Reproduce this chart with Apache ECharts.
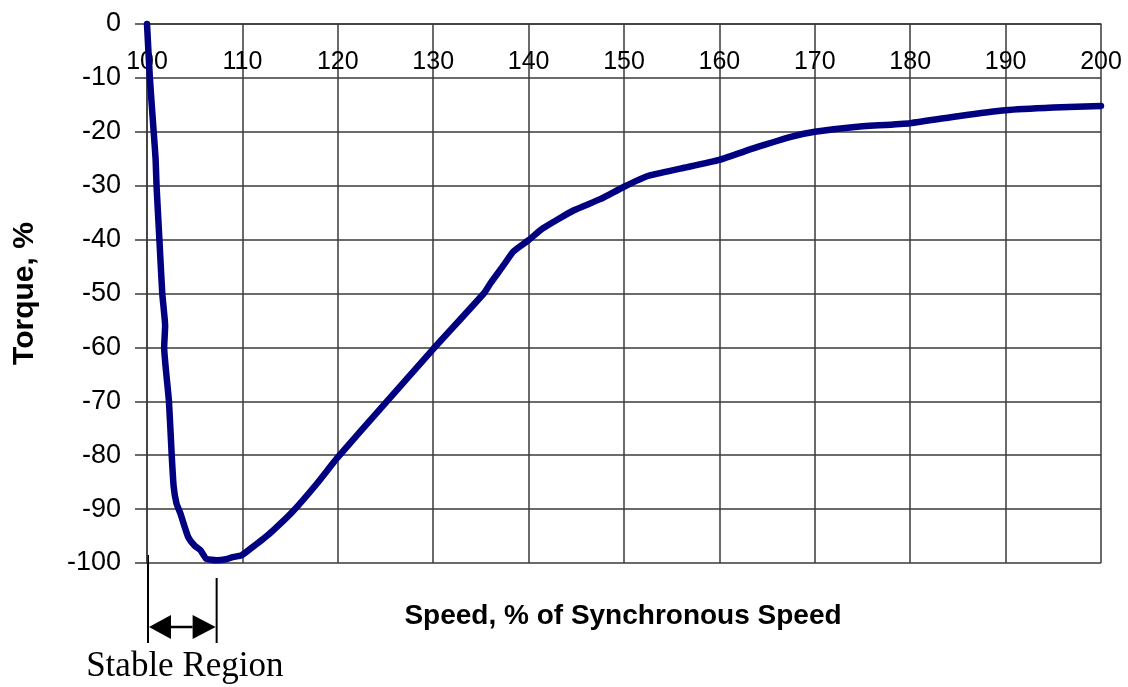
<!DOCTYPE html>
<html>
<head>
<meta charset="utf-8">
<title>Torque vs Speed</title>
<script src="https://cdn.jsdelivr.net/npm/echarts@6/dist/echarts.min.js"></script>
<style>
  html, body { margin: 0; padding: 0; background: #ffffff; }
  #chart { width: 1128px; height: 687px; }
</style>
</head>
<body>
<div id="chart"></div>
<script>
// Speed (% of synchronous speed) and the matching torque (%) along the curve
const speed = [100, 100.3, 100.7, 100.9, 101.0, 101.3, 101.6, 101.9, 101.8, 102.3,
  102.6, 102.8, 103.1, 103.5, 104.3, 105.0, 105.6, 106.2, 107.3, 108.3,
  109.0, 109.9, 111.1, 112.2, 113.2, 115.2, 117.8, 119.9, 124.8, 129.9,
  135.3, 136.0, 137.4, 138.4, 140.0, 141.5, 144.7, 147.5, 150.0, 152.5,
  156.0, 160.0, 163.7, 167.6, 170.0, 174.2, 180.0, 185.0, 190.0, 195.0, 200.0];
const torque = [0, -10, -20, -25, -30, -40, -50, -56, -60, -70,
  -80.3, -85.9, -89.0, -90.8, -95.1, -96.8, -97.6, -99.2, -99.5, -99.3,
  -98.9, -98.6, -97.0, -95.5, -94.0, -90.6, -85.3, -80.6, -70.7, -60.5,
  -50.0, -48.1, -44.7, -42.2, -40.1, -37.9, -34.6, -32.5, -30.2, -28.2,
  -26.8, -25.2, -23.0, -20.9, -20.0, -19.1, -18.4, -17.1, -16.0, -15.5, -15.2];

// Speed range marked as the stable region under the axis
const stableRegion = [100, 107.3];

const xTitle = 'Speed, % of Synchronous Speed';
const yTitle = 'Torque, %';
const regionLabel = 'Stable Region';

const sans = '"Liberation Sans", Arial, sans-serif';
const serif = '"Liberation Serif", "Times New Roman", serif';
const gridColor = '#3a3a3a';

const chart = echarts.init(document.getElementById('chart'), null, { renderer: 'canvas' });

chart.setOption({
  animation: false,
  backgroundColor: '#ffffff',
  grid: { left: 147, right: 27, top: 24, bottom: 124, containLabel: false, outerBoundsMode: 'none' },
  xAxis: {
    type: 'value',
    position: 'top',
    min: 100, max: 200, interval: 10,
    axisLine: { show: true, lineStyle: { color: gridColor, width: 1.5 } },
    axisTick: { show: false },
    axisLabel: {
      inside: true, margin: 26,
      color: '#000', fontFamily: sans, fontSize: 25,
      showMinLabel: true, showMaxLabel: true
    },
    splitLine: { show: true, lineStyle: { color: gridColor, width: 1.5 } }
  },
  yAxis: {
    type: 'value',
    min: -100, max: 0, interval: 10,
    name: yTitle,
    nameLocation: 'middle',
    nameRotate: 90,
    nameGap: 107,
    nameTextStyle: { color: '#000', fontFamily: sans, fontSize: 30, fontWeight: 'bold' },
    axisLine: { show: true, onZero: false, lineStyle: { color: gridColor, width: 1.5 } },
    axisTick: { show: true, length: 12, lineStyle: { color: gridColor, width: 1.5 } },
    axisLabel: { margin: 26, color: '#000', fontFamily: sans, fontSize: 27 },
    splitLine: { show: true, lineStyle: { color: gridColor, width: 1.5 } }
  },
  series: [{
    type: 'line',
    data: speed.map((s, i) => [s, torque[i]]),
    showSymbol: false,
    smooth: 0.15,
    lineStyle: { color: '#000080', width: 6.5, cap: 'round', join: 'round' },
    clip: false
  }]
});

// Annotation below the plot: stable-region bracket with a double arrow and label
const toPx = (x, y) => chart.convertToPixel({ gridIndex: 0 }, [x, y]);
const [xL, yB] = toPx(stableRegion[0], -100);
const [xR] = toPx(stableRegion[1], -100);
const [xMid] = toPx(150, -100);
const arrowY = yB + 64;
const head = 24, half = 12;
const ink = '#000000';

chart.setOption({
  graphic: [
    { type: 'line', shape: { x1: xL + 1, y1: yB - 8, x2: xL + 1, y2: yB + 80 }, style: { stroke: ink, lineWidth: 2 } },
    { type: 'line', shape: { x1: xR, y1: yB + 15, x2: xR, y2: yB + 80 }, style: { stroke: ink, lineWidth: 2 } },
    { type: 'line', shape: { x1: xL + head, y1: arrowY, x2: xR - head, y2: arrowY }, style: { stroke: ink, lineWidth: 2.5 } },
    { type: 'polygon', shape: { points: [[xL + 2, arrowY], [xL + head, arrowY - half], [xL + head, arrowY + half]] }, style: { fill: ink } },
    { type: 'polygon', shape: { points: [[xR - 1, arrowY], [xR - head, arrowY - half], [xR - head, arrowY + half]] }, style: { fill: ink } },
    {
      type: 'text', x: (xL + xR) / 2 + 3, y: yB + 104,
      style: { text: regionLabel, font: '35px ' + serif, fill: '#000', textAlign: 'center', textVerticalAlign: 'middle' }
    },
    {
      type: 'text', x: xMid - 1, y: yB + 53,
      style: { text: xTitle, font: 'bold 28px ' + sans, fill: '#000', textAlign: 'center', textVerticalAlign: 'middle' }
    }
  ]
});
</script>
</body>
</html>
